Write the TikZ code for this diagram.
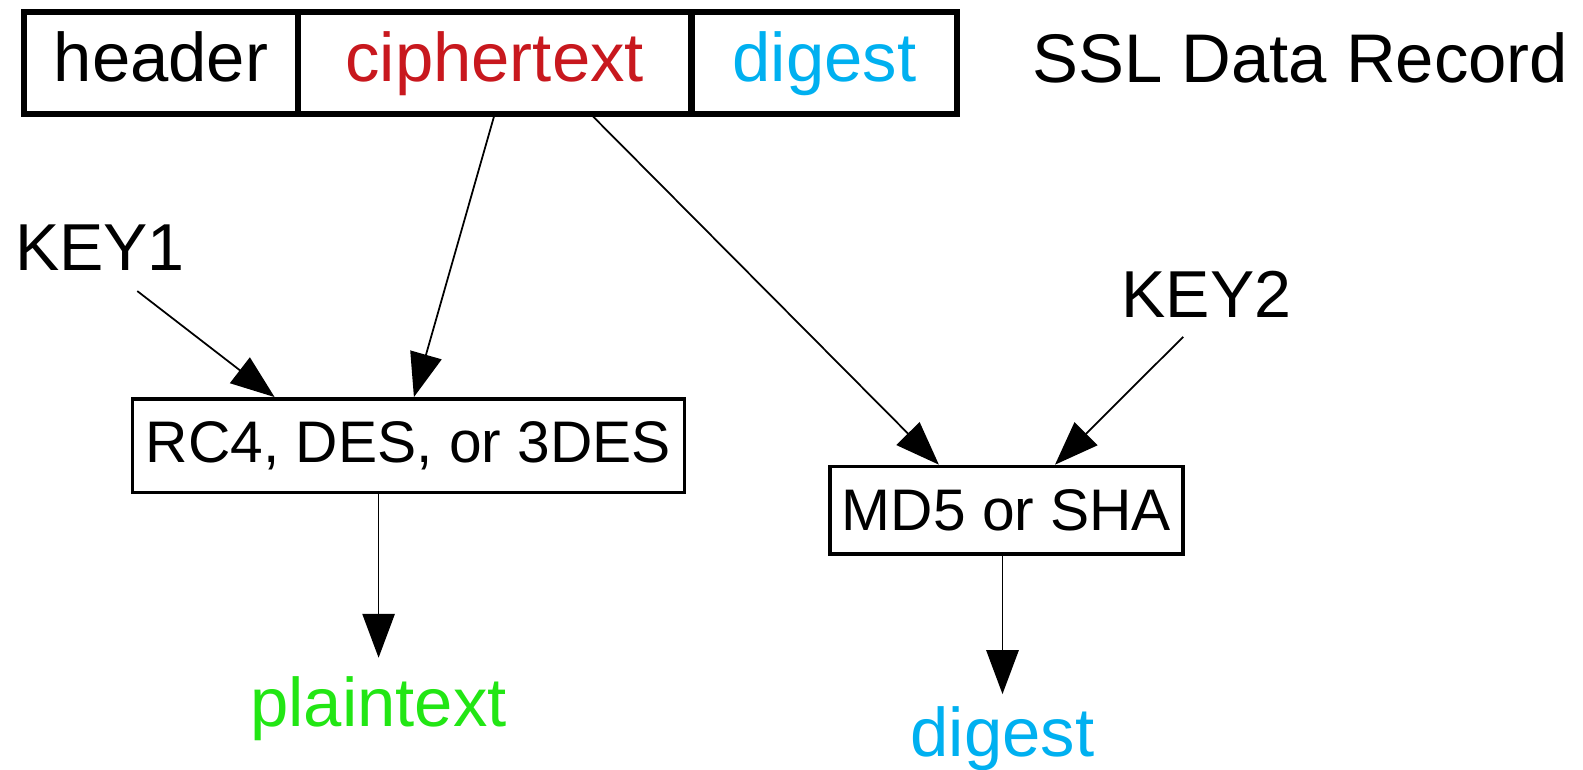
\documentclass[tikz,border=0pt]{standalone}
\usepackage{fontspec}
\setmainfont{Liberation Sans}
\usepackage{tikz}
\usetikzlibrary{arrows.meta,positioning}
\definecolor{cipherred}{RGB}{200,24,30}
\definecolor{digestblue}{RGB}{0,176,240}
\definecolor{plaingreen}{RGB}{34,230,20}

\begin{document}
\begin{tikzpicture}[x=0.010096cm, y=-0.010096cm,
  field/.style={draw, line width=1.7pt, inner sep=0pt, outer sep=0pt, minimum height=29pt,
    text height=1.05em, text depth=0em, font=\fontsize{19.6}{22}\selectfont},
  algbox/.style={draw, line width=1pt, inner sep=0pt, font=\fontsize{16.7}{19}\selectfont},
  big/.style={inner sep=0pt, font=\fontsize{19.6}{22}\selectfont},
  keytext/.style={inner sep=0pt, font=\fontsize{18.9}{22}\selectfont},
  arr/.style={-{Triangle[length=12.5pt,width=9.2pt]}, line width=0.5pt}]
  \useasboundingbox (0,0) rectangle (1568,762);

  % the record
  \node[field, minimum width=77.85pt] (header) at (159.5,62.5) {header};
  \node[field, minimum width=112pt, text=cipherred] (cipher) at (490,62.5) {ciphertext};
  \node[field, minimum width=75.55pt, text=digestblue] (digest) at (816.5,62.5) {digest};
  \node[big] (title) at (1288,57) {SSL Data Record};

  \node[keytext] (key1) at (99,245) {KEY1};
  \node[keytext] (key2) at (1195,292) {KEY2};

  \node[algbox, minimum width=157.1pt, minimum height=26.7pt] (rc4) at (404.5,441.5) {RC4, DES, or 3DES};
  \node[algbox, minimum width=100.5pt, minimum height=25pt] (md5) at (997,505.5) {MD5 or SHA};

  \node[big, text=plaingreen] (plain) at (375,702) {plaintext};
  \node[big, text=digestblue] (dig2) at (993,732) {digest};

  \draw[arr] ([shift={(37,20)}]key1.south) -- ([shift={(-132.5,0)}]rc4.north);
  \draw[arr] (cipher.south) -- ([shift={(5.5,0)}]rc4.north);
  \draw[arr] ([shift={(95,0)}]cipher.south) -- ([shift={(-67,0)}]md5.north);
  \draw[arr] ([shift={(-23,18)}]key2.south) -- ([shift={(48,0)}]md5.north);
  \draw[arr] (rc4.south -| plain) -- ([shift={(0,-18)}]plain.north);
  \draw[arr] (md5.south -| dig2) -- ([shift={(0,-12)}]dig2.north);
\end{tikzpicture}
\end{document}
